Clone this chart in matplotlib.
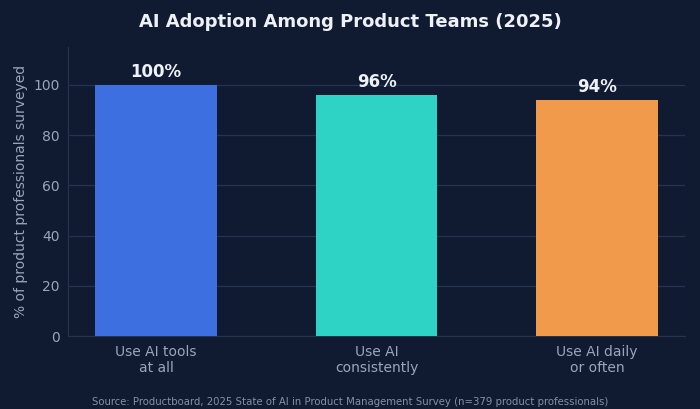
import matplotlib.pyplot as plt

# Data
categories = ['Use AI tools\nat all', 'Use AI\nconsistently', 'Use AI daily\nor often']
values = [100, 96, 94]
bar_colors = ['#3d6fe0', '#2fd3c6', '#f29a4b']

bg = '#101b32'
grid_col = '#24334f'
tick_col = '#98a6bd'

fig = plt.figure(figsize=(7, 4.09), dpi=100, facecolor=bg)
ax = fig.add_axes([0.097, 0.178, 0.882, 0.707], facecolor=bg)

x = range(len(categories))
ax.bar(x, values, width=0.55, color=bar_colors, zorder=3)

for i, v in zip(x, values):
    ax.text(i, v + 1.5, f'{v}%', ha='center', va='bottom', color='#eef2f8',
            fontsize=12, fontweight='bold')

ax.set_xlim(-0.4, 2.4)
ax.set_ylim(0, 115)
ax.set_yticks([0, 20, 40, 60, 80, 100])
ax.set_xticks(list(x))
ax.set_xticklabels(categories)
ax.tick_params(axis='both', colors=tick_col, labelsize=10, length=0, pad=6)
ax.grid(axis='y', color=grid_col, linewidth=0.9, zorder=0)

for s in ['top', 'right']:
    ax.spines[s].set_visible(False)
for s in ['left', 'bottom']:
    ax.spines[s].set_color(grid_col)

ax.set_ylabel('% of product professionals surveyed', color=tick_col, fontsize=10)

fig.text(0.5, 0.945, 'AI Adoption Among Product Teams (2025)', ha='center', va='center',
         color='#eef2f8', fontsize=13, fontweight='bold')
fig.text(0.5, 0.018, 'Source: Productboard, 2025 State of AI in Product Management Survey (n=379 product professionals)',
         ha='center', va='center', color='#8391a8', fontsize=7.3)

fig.savefig('out.png', dpi=100, facecolor=bg)
